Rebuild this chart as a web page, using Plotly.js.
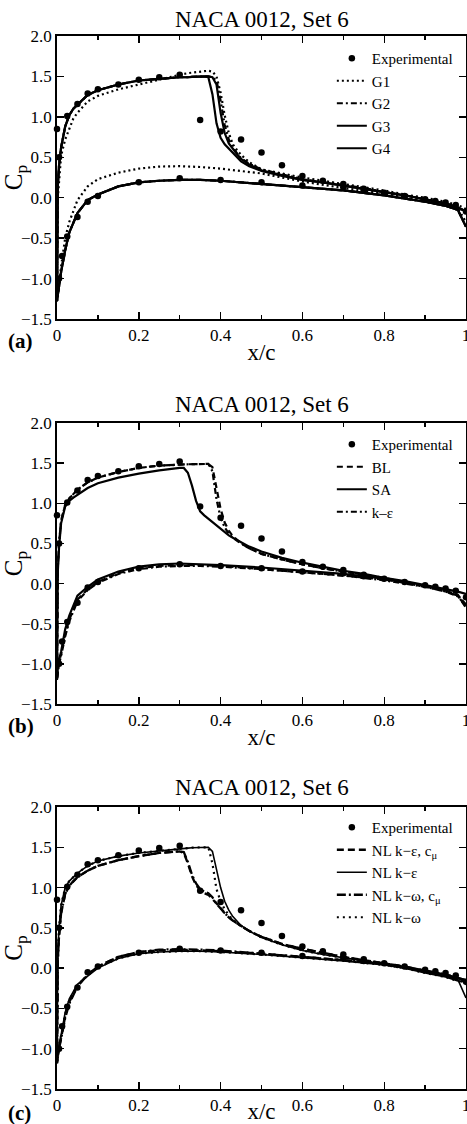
<!DOCTYPE html>
<html>
<head>
<meta charset="utf-8">
<script src="https://cdn.plot.ly/plotly-3.0.1.min.js"></script>
<style>html,body{margin:0;padding:0;background:#fff;}#chart{width:467px;height:1124px;}</style>
</head>
<body>
<div id="chart"></div>
<script>
// ---------- shared data ----------
const panelTitle = "NACA 0012, Set 6";
const panelLabels = ["(a)", "(b)", "(c)"];

// Experimental data (upper and lower surface)
const expXUp  = [0, 0.005, 0.025, 0.05, 0.075, 0.1, 0.15, 0.2, 0.25, 0.3, 0.35, 0.4, 0.45, 0.5, 0.55, 0.6, 0.65, 0.7, 0.75, 0.8, 0.85, 0.9, 0.925, 0.95, 0.975, 1.0];
const expCpUp = [0.85, 0.5, 1.01, 1.16, 1.29, 1.34, 1.40, 1.46, 1.49, 1.52, 0.96, 0.82, 0.72, 0.56, 0.40, 0.27, 0.21, 0.17, 0.11, 0.06, 0.02, -0.02, -0.04, -0.06, -0.09, -0.17];
const expXLo  = [0.005, 0.0125, 0.025, 0.05, 0.075, 0.1, 0.2, 0.3, 0.4, 0.5, 0.6, 0.7, 0.75];
const expCpLo = [-1.0, -0.72, -0.48, -0.24, -0.05, 0.02, 0.19, 0.24, 0.22, 0.19, 0.15, 0.13, 0.09];

// Computational x stations (upper surface and lower surface)
const xUp = [0, 0.002, 0.005, 0.01, 0.02, 0.03, 0.04, 0.05, 0.075, 0.1, 0.15, 0.2, 0.25, 0.3,
  0.31, 0.32, 0.33, 0.34, 0.35, 0.36, 0.37, 0.38, 0.39, 0.40, 0.41, 0.42, 0.43, 0.44, 0.45,
  0.47, 0.5, 0.55, 0.6, 0.65, 0.7, 0.75, 0.8, 0.85, 0.9, 0.95, 0.98, 1.0];
const xLo = [0, 0.002, 0.005, 0.01, 0.02, 0.03, 0.05, 0.075, 0.1, 0.15, 0.2, 0.25, 0.3, 0.35, 0.4, 0.5, 0.6, 0.7, 0.8, 0.9, 0.95, 0.98, 1.0];

// ---------- panel (a): grid study ----------
const g1Up = [-1.28, 0.0, 0.25, 0.52, 0.72, 0.85, 0.98, 1.05, 1.19, 1.26, 1.34, 1.40, 1.46, 1.52,
  1.53, 1.54, 1.545, 1.55, 1.56, 1.565, 1.57, 1.56, 1.50, 1.30, 1.02, 0.80, 0.66, 0.59, 0.53,
  0.44, 0.35, 0.30, 0.25, 0.21, 0.17, 0.13, 0.09, 0.04, 0.0, -0.05, -0.09, -0.14];
const g1Lo = [-1.28, -1.18, -1.05, -0.85, -0.50, -0.30, -0.03, 0.14, 0.23, 0.31, 0.36, 0.385, 0.39, 0.38, 0.36, 0.30, 0.20, 0.12, 0.05, -0.03, -0.08, -0.13, -0.30];
const g2Up = [-1.28, 0.15, 0.40, 0.62, 0.88, 1.02, 1.10, 1.15, 1.27, 1.33, 1.40, 1.45, 1.47, 1.49,
  1.49, 1.49, 1.495, 1.50, 1.50, 1.50, 1.50, 1.49, 1.45, 1.20, 0.90, 0.72, 0.62, 0.55, 0.49,
  0.42, 0.35, 0.29, 0.23, 0.19, 0.16, 0.12, 0.07, 0.03, -0.02, -0.07, -0.12, -0.17];
const g2Lo = [-1.28, -1.2, -1.1, -0.92, -0.65, -0.43, -0.19, -0.03, 0.04, 0.14, 0.19, 0.21, 0.22, 0.22, 0.21, 0.17, 0.13, 0.09, 0.03, -0.05, -0.10, -0.15, -0.36];
const g3Up = [-1.28, 0.15, 0.40, 0.62, 0.88, 1.02, 1.10, 1.15, 1.27, 1.33, 1.40, 1.45, 1.47, 1.49,
  1.49, 1.49, 1.495, 1.50, 1.50, 1.50, 1.49, 1.28, 0.92, 0.74, 0.66, 0.61, 0.55, 0.50, 0.45,
  0.39, 0.33, 0.27, 0.22, 0.19, 0.15, 0.11, 0.07, 0.03, -0.02, -0.07, -0.12, -0.17];
const g3Lo = [-1.28, -1.2, -1.1, -0.92, -0.65, -0.43, -0.19, -0.03, 0.04, 0.14, 0.19, 0.21, 0.22, 0.22, 0.21, 0.17, 0.13, 0.09, 0.03, -0.05, -0.10, -0.15, -0.36];
const g4Up = [-1.28, 0.15, 0.40, 0.62, 0.88, 1.02, 1.10, 1.15, 1.27, 1.33, 1.40, 1.45, 1.47, 1.49,
  1.49, 1.49, 1.495, 1.50, 1.50, 1.50, 1.50, 1.49, 1.40, 1.05, 0.80, 0.67, 0.60, 0.54, 0.48,
  0.41, 0.34, 0.28, 0.22, 0.19, 0.15, 0.11, 0.07, 0.03, -0.02, -0.07, -0.12, -0.17];
const g4Lo = [-1.28, -1.2, -1.1, -0.92, -0.65, -0.43, -0.19, -0.03, 0.04, 0.14, 0.19, 0.21, 0.22, 0.22, 0.21, 0.17, 0.13, 0.09, 0.03, -0.05, -0.10, -0.15, -0.36];

// ---------- panel (b): turbulence models ----------
const blUp = [-1.2, 0.2, 0.5, 0.78, 0.98, 1.06, 1.12, 1.17, 1.26, 1.32, 1.39, 1.44, 1.47, 1.48,
  1.485, 1.49, 1.49, 1.49, 1.49, 1.49, 1.49, 1.45, 1.20, 0.93, 0.76, 0.66, 0.59, 0.54, 0.50,
  0.44, 0.37, 0.30, 0.24, 0.19, 0.15, 0.11, 0.07, 0.02, -0.03, -0.09, -0.14, -0.28];
const blLo = [-1.2, -1.1, -0.98, -0.88, -0.63, -0.45, -0.20, -0.07, 0.02, 0.13, 0.19, 0.22, 0.23, 0.23, 0.22, 0.18, 0.14, 0.10, 0.05, -0.03, -0.09, -0.15, -0.30];
const saUp = [-1.2, 0.15, 0.45, 0.75, 0.96, 1.03, 1.07, 1.11, 1.19, 1.25, 1.32, 1.37, 1.41, 1.44,
  1.44, 1.38, 1.22, 1.03, 0.90, 0.85, 0.81, 0.76, 0.72, 0.68, 0.64, 0.60, 0.57, 0.54, 0.51,
  0.46, 0.40, 0.32, 0.26, 0.21, 0.16, 0.12, 0.07, 0.03, -0.02, -0.07, -0.10, -0.13];
const saLo = [-1.2, -1.05, -0.95, -0.85, -0.57, -0.40, -0.15, -0.04, 0.05, 0.15, 0.21, 0.24, 0.25, 0.24, 0.23, 0.20, 0.16, 0.12, 0.06, -0.02, -0.07, -0.10, -0.13];
const keUp = [-1.2, 0.2, 0.5, 0.78, 0.98, 1.06, 1.12, 1.17, 1.26, 1.32, 1.39, 1.44, 1.47, 1.48,
  1.485, 1.49, 1.49, 1.49, 1.49, 1.49, 1.49, 1.40, 1.05, 0.82, 0.70, 0.62, 0.57, 0.53, 0.50,
  0.44, 0.37, 0.30, 0.24, 0.19, 0.15, 0.11, 0.06, 0.01, -0.04, -0.10, -0.15, -0.26];
const keLo = [-1.2, -1.12, -1.0, -0.9, -0.66, -0.47, -0.22, -0.08, 0.01, 0.12, 0.18, 0.21, 0.22, 0.22, 0.21, 0.18, 0.14, 0.10, 0.04, -0.04, -0.10, -0.16, -0.28];

// ---------- panel (c): non-linear models ----------
const nlkecUp = [-1.18, 0.1, 0.4, 0.68, 0.92, 1.02, 1.08, 1.13, 1.21, 1.27, 1.34, 1.39, 1.43, 1.45,
  1.43, 1.30, 1.14, 1.03, 0.97, 0.93, 0.91, 0.86, 0.80, 0.75, 0.68, 0.63, 0.59, 0.55, 0.52,
  0.46, 0.39, 0.30, 0.24, 0.19, 0.14, 0.10, 0.06, 0.02, -0.03, -0.08, -0.12, -0.15];
const nlkecLo = [-1.18, -1.08, -0.98, -0.87, -0.60, -0.42, -0.22, -0.08, 0.02, 0.14, 0.20, 0.22, 0.23, 0.22, 0.21, 0.18, 0.14, 0.10, 0.05, -0.03, -0.08, -0.12, -0.15];
const nlkeUp = [-1.18, 0.2, 0.5, 0.78, 1.0, 1.08, 1.13, 1.18, 1.27, 1.33, 1.39, 1.43, 1.46, 1.48,
  1.485, 1.49, 1.495, 1.50, 1.50, 1.50, 1.50, 1.45, 1.24, 1.00, 0.83, 0.72, 0.64, 0.58, 0.53,
  0.46, 0.38, 0.29, 0.22, 0.17, 0.13, 0.09, 0.04, 0.0, -0.06, -0.11, -0.16, -0.17];
const nlkeLo = [-1.18, -1.05, -0.95, -0.83, -0.55, -0.38, -0.20, -0.10, 0.0, 0.12, 0.18, 0.20, 0.21, 0.21, 0.20, 0.17, 0.13, 0.09, 0.04, -0.04, -0.09, -0.14, -0.37];
const nlkwcUp = [-1.18, 0.1, 0.4, 0.68, 0.92, 1.02, 1.08, 1.13, 1.21, 1.27, 1.34, 1.39, 1.43, 1.45,
  1.44, 1.32, 1.16, 1.05, 0.98, 0.95, 0.93, 0.88, 0.80, 0.74, 0.68, 0.63, 0.59, 0.55, 0.52,
  0.46, 0.39, 0.30, 0.24, 0.19, 0.14, 0.10, 0.06, 0.02, -0.03, -0.08, -0.12, -0.15];
const nlkwcLo = [-1.18, -1.1, -1.0, -0.88, -0.62, -0.44, -0.23, -0.08, 0.02, 0.14, 0.20, 0.23, 0.235, 0.23, 0.22, 0.18, 0.14, 0.10, 0.05, -0.03, -0.08, -0.12, -0.17];
const nlkwUp = [-1.18, 0.2, 0.5, 0.78, 1.0, 1.08, 1.13, 1.18, 1.27, 1.33, 1.39, 1.43, 1.46, 1.48,
  1.485, 1.49, 1.495, 1.50, 1.50, 1.50, 1.50, 1.30, 0.98, 0.83, 0.73, 0.66, 0.60, 0.56, 0.52,
  0.46, 0.38, 0.29, 0.22, 0.17, 0.13, 0.09, 0.04, 0.0, -0.06, -0.11, -0.16, -0.17];
const nlkwLo = [-1.18, -1.06, -0.96, -0.84, -0.57, -0.40, -0.21, -0.09, 0.01, 0.12, 0.18, 0.20, 0.21, 0.21, 0.20, 0.17, 0.13, 0.09, 0.04, -0.04, -0.09, -0.14, -0.20];

// ---------- helpers ----------
const FONT = "'Liberation Serif', 'Times New Roman', serif";
function curve(name, up, lo, dash, width, k) {
  const x = xUp.slice().reverse().concat(xLo);
  const y = up.slice().reverse().concat(lo);
  return {
    type: "scatter", mode: "lines", name: name, x: x, y: y,
    xaxis: k === 1 ? "x" : "x" + k, yaxis: k === 1 ? "y" : "y" + k,
    legend: k === 1 ? "legend" : "legend" + k,
    line: {color: "black", width: width, dash: dash}
  };
}
function experimental(k) {
  return {
    type: "scatter", mode: "markers", name: "Experimental",
    x: expXUp.concat(expXLo), y: expCpUp.concat(expCpLo),
    xaxis: k === 1 ? "x" : "x" + k, yaxis: k === 1 ? "y" : "y" + k,
    legend: k === 1 ? "legend" : "legend" + k,
    cliponaxis: false,
    marker: {color: "black", size: 6.5}
  };
}

const traces = [
  experimental(1),
  curve("G1", g1Up, g1Lo, "2px,3px", 2.2, 1),
  curve("G2", g2Up, g2Lo, "6px,3px,2px,3px", 2.2, 1),
  curve("G3", g3Up, g3Lo, "solid", 2.2, 1),
  curve("G4", g4Up, g4Lo, "solid", 2.2, 1),
  experimental(2),
  curve("BL", blUp, blLo, "6px,4px", 2.2, 2),
  curve("SA", saUp, saLo, "solid", 2.2, 2),
  curve("k\u2013\u03b5", keUp, keLo, "6px,3px,2px,3px", 2.2, 2),
  experimental(3),
  curve("NL k\u2212\u03b5, c<sub>\u03bc</sub>", nlkecUp, nlkecLo, "7px,4px", 2.3, 3),
  curve("NL k\u2212\u03b5", nlkeUp, nlkeLo, "solid", 1.6, 3),
  curve("NL k\u2212\u03c9, c<sub>\u03bc</sub>", nlkwcUp, nlkwcLo, "9px,3px,2px,3px", 2.3, 3),
  curve("NL k\u2212\u03c9", nlkwUp, nlkwLo, "2px,4px", 2.2, 3)
];

// pixel layout helpers (figure is 1124 px tall, no top/bottom margin)
const H = 1124;
const py = p => 1 - p / H;
const yDomains = [[py(319), py(36)], [py(704), py(423)], [py(1089), py(807)]];

function xax(k) {
  return {
    domain: [0, 1], anchor: k === 1 ? "y" : "y" + k, range: [0, 1],
    dtick: 0.2, tick0: 0, ticks: "inside", ticklen: 7, tickwidth: 1.4, tickcolor: "black",
    minor: {dtick: 0.1, tick0: 0, ticks: "inside", ticklen: 4, tickwidth: 1.4, tickcolor: "black", showgrid: false},
    showline: true, linecolor: "black", linewidth: 1.8, mirror: "ticks",
    showgrid: false, zeroline: false, ticklabeloverflow: "allow",
    tickfont: {family: FONT, size: 17, color: "black"},
    title: {text: "x/c", font: {family: FONT, size: 23, color: "black"}, standoff: 0}
  };
}
function yax(k) {
  return {
    domain: yDomains[k - 1], anchor: k === 1 ? "x" : "x" + k, range: [-1.5, 2],
    dtick: 0.5, tick0: 0, tickformat: ".1f", ticks: "inside", ticklen: 7, tickwidth: 1.4, tickcolor: "black",
    showline: true, linecolor: "black", linewidth: 1.8, mirror: "ticks",
    showgrid: false, zeroline: false, ticklabeloverflow: "allow",
    tickfont: {family: FONT, size: 17, color: "black"},
    title: {text: "C<sub>p</sub>", font: {family: FONT, size: 25, color: "black"}, standoff: 2}
  };
}
function leg(topPx) {
  return {
    x: 0.672, xanchor: "left", y: py(topPx), yanchor: "top",
    bgcolor: "rgba(0,0,0,0)", borderwidth: 0, tracegroupgap: 0,
    font: {family: FONT, size: 15, color: "black"}
  };
}

const titleY = [19, 404, 787];
const labelY = [341, 726, 1113];
const annotations = [];
for (let i = 0; i < 3; i++) {
  annotations.push({xref: "paper", yref: "paper", x: 0.5, y: py(titleY[i]), xanchor: "center", yanchor: "middle",
    text: panelTitle, showarrow: false, font: {family: FONT, size: 23, color: "black"}});
  annotations.push({xref: "paper", yref: "paper", x: -0.124, y: py(labelY[i]), xanchor: "left", yanchor: "middle",
    text: "<b>" + panelLabels[i] + "</b>", showarrow: false, font: {family: FONT, size: 21, color: "black"}});
}

const layout = {
  width: 467, height: 1124,
  margin: {l: 57, r: 1, t: 0, b: 0},
  paper_bgcolor: "white", plot_bgcolor: "white",
  font: {family: FONT, color: "black"},
  showlegend: true,
  xaxis: xax(1), yaxis: yax(1),
  xaxis2: xax(2), yaxis2: yax(2),
  xaxis3: xax(3), yaxis3: yax(3),
  legend: leg(42), legend2: leg(428), legend3: leg(811),
  annotations: annotations
};

Plotly.newPlot("chart", traces, layout, {displayModeBar: false, staticPlot: true});
</script>
</body>
</html>
